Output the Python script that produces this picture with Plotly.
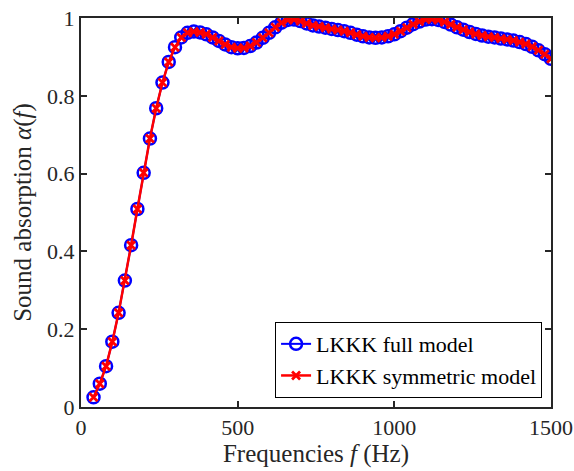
import plotly.graph_objects as go

freqs = list(range(40, 1501, 20))
alpha_full = [0.025, 0.060, 0.105, 0.168, 0.242, 0.325, 0.416, 0.509, 0.602, 0.690,
              0.768, 0.834, 0.887, 0.925, 0.950, 0.962, 0.965, 0.963, 0.958, 0.950,
              0.941, 0.932, 0.925, 0.922, 0.923, 0.928, 0.937, 0.949, 0.962, 0.976,
              0.988, 0.995, 0.996, 0.992, 0.986, 0.981, 0.978, 0.975, 0.972, 0.969,
              0.966, 0.962, 0.957, 0.953, 0.950, 0.949, 0.950, 0.953, 0.958, 0.966,
              0.975, 0.984, 0.991, 0.996, 0.997, 0.995, 0.990, 0.983, 0.976, 0.970,
              0.964, 0.959, 0.955, 0.952, 0.950, 0.947, 0.945, 0.942, 0.938, 0.933,
              0.926, 0.917, 0.907, 0.895]
alpha_sym = list(alpha_full)

x_ticks = [0, 500, 1000, 1500]
y_ticks = [0, 0.2, 0.4, 0.6, 0.8, 1]
y_ticklabels = ["0", "0.2", "0.4", "0.6", "0.8", "1"]

FONT = "Liberation Serif"
AXC = "#262626"

fig = go.Figure()
fig.add_trace(go.Scatter(
    x=freqs, y=alpha_full, mode="lines+markers", name="LKKK full model",
    line=dict(color="rgb(0,0,255)", width=2),
    marker=dict(symbol="circle-open", size=12, color="rgb(0,0,255)",
                line=dict(width=2.5, color="rgb(0,0,255)")),
))
fig.add_trace(go.Scatter(
    x=freqs, y=alpha_sym, mode="lines+markers", name="LKKK symmetric model",
    line=dict(color="rgb(255,0,0)", width=2.5),
    marker=dict(symbol="x-thin-open", size=8, color="rgb(255,0,0)",
                line=dict(width=2.8, color="rgb(255,0,0)")),
))

axis_common = dict(
    showline=True, linecolor=AXC, linewidth=2, mirror="ticks",
    ticks="inside", ticklen=6, tickwidth=2, tickcolor=AXC,
    showgrid=False, zeroline=False, automargin=False,
    tickfont=dict(family=FONT, size=22, color=AXC),
)

fig.update_layout(
    width=574, height=471,
    margin=dict(l=81, r=23, t=18, b=64),
    paper_bgcolor="white", plot_bgcolor="white",
    font=dict(family=FONT, size=22, color=AXC),
    xaxis=dict(range=[0, 1500], tickvals=x_ticks,
               title=dict(text="Frequencies <i>f</i> (Hz)", standoff=2,
                          font=dict(family=FONT, size=25, color=AXC)),
               **axis_common),
    yaxis=dict(range=[0, 1], tickvals=y_ticks, ticktext=y_ticklabels,
               title=dict(text="Sound absorption <i>α</i>(<i>f</i>)", standoff=8,
                          font=dict(family=FONT, size=25, color=AXC)),
               **axis_common),
    legend=dict(x=0.981, y=0.023, xanchor="right", yanchor="bottom",
                bgcolor="white", bordercolor="black", borderwidth=1,
                font=dict(family=FONT, size=22, color="black"),
                tracegroupgap=0, itemwidth=30),
    showlegend=True,
)

fig.write_html("out.html")
